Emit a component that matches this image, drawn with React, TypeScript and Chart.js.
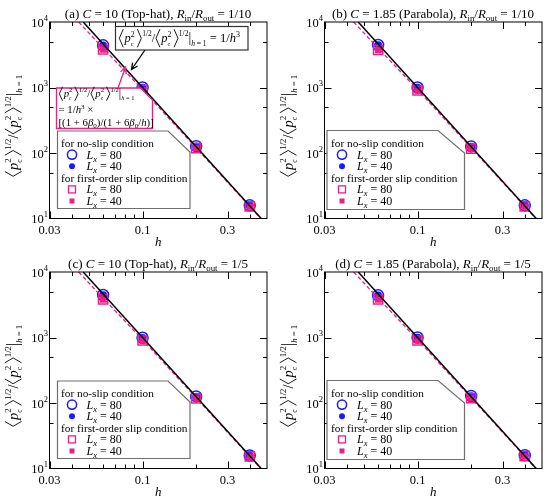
import React, { useEffect, useRef } from "react";
import { Chart, registerables } from "chart.js";

Chart.register(...registerables);

// ---------- data ----------
const H_VALUES = [0.06, 0.1, 0.2, 0.4];

const NOSLIP80_A = [4400, 1000, 127, 15.9];
const NOSLIP40_A = [4380, 990, 126, 15.8];
const SLIP80_A = [3800, 920, 119, 15.3];
const SLIP40_A = [3780, 910, 118, 15.2];

const NOSLIP80_B = [4450, 1000, 126, 15.9];
const NOSLIP40_B = [4420, 990, 125, 15.8];
const SLIP80_B = [3750, 900, 117, 15.3];
const SLIP40_B = [3730, 895, 116, 15.2];

const NOSLIP80_C = [4450, 990, 126, 15.8];
const NOSLIP40_C = [4420, 985, 125, 15.7];
const SLIP80_C = [3800, 900, 118, 15.3];
const SLIP40_C = [3780, 895, 117, 15.2];

const NOSLIP80_D = [4400, 1000, 128, 16.0];
const NOSLIP40_D = [4380, 990, 127, 15.9];
const SLIP80_D = [3800, 900, 119, 15.4];
const SLIP40_D = [3780, 895, 118, 15.3];

// theory lines
const NOSLIP_LINE_H = [0.0464, 0.464];
const NOSLIP_LINE_V = [10000, 10];
const SLIP_LINE_H = [0.0437, 0.06, 0.1, 0.2, 0.4, 0.462];
const SLIP_LINE_V = [10000, 4000, 925, 120, 15.3, 10];

// axes
const X_MIN = 0.03;
const X_MAX = 0.5;
const Y_MIN = 10;
const Y_MAX = 10000;
const X_MAJOR = [0.03, 0.1, 0.3];
const X_MAJOR_LABELS = ["0.03", "0.1", "0.3"];
const X_MINOR = [0.04, 0.05, 0.06, 0.07, 0.08, 0.09, 0.2, 0.4];
const Y_MAJOR = [10, 100, 1000, 10000];
const Y_MAJOR_EXP = ["1", "2", "3", "4"];
const Y_MINOR = [50, 500, 5000];

const PANEL_LETTERS = ["a", "b", "c", "d"];
const PANEL_C = ["10", "1.85", "10", "1.85"];
const PANEL_SHAPE = ["Top-hat", "Parabola", "Top-hat", "Parabola"];
const PANEL_RATIO = ["1/10", "1/10", "1/5", "1/5"];

const LEGEND_HEAD_1 = "for no-slip condition";
const LEGEND_HEAD_2 = "for first-order slip condition";
const LEGEND_LX = ["80", "40"];

// ---------- style ----------
const PINK = "#ec1f86";
const BLUE = "#1a1aff";
const SERIF = '"Liberation Serif", "Times New Roman", serif';

interface Tok {
  t?: string;
  s?: number;
  it?: boolean;
  dy?: number;
  br?: "l" | "r";
  bh?: number;
  bw?: number;
  bcy?: number;
  up?: Tok;
  dn?: Tok;
  gap?: number;
}

function fnt(size: number, italic?: boolean) {
  return `${italic ? "italic " : ""}${size}px ${SERIF}`;
}

function tw(ctx: CanvasRenderingContext2D, k: Tok): number {
  if (k.gap !== undefined) return k.gap;
  if (k.br) return k.bw as number;
  if (k.up || k.dn) return Math.max(k.up ? tw(ctx, k.up) : 0, k.dn ? tw(ctx, k.dn) : 0);
  ctx.font = fnt(k.s as number, k.it);
  return ctx.measureText(k.t as string).width;
}

function drawTok(ctx: CanvasRenderingContext2D, k: Tok, x: number, y: number, color: string) {
  if (k.gap !== undefined) return;
  if (k.br) {
    const w = k.bw as number;
    const h = k.bh as number;
    const cy = y + (k.bcy || 0);
    ctx.beginPath();
    if (k.br === "l") {
      ctx.moveTo(x + w - 0.5, cy - h / 2);
      ctx.lineTo(x + 0.8, cy);
      ctx.lineTo(x + w - 0.5, cy + h / 2);
    } else {
      ctx.moveTo(x + 0.5, cy - h / 2);
      ctx.lineTo(x + w - 0.8, cy);
      ctx.lineTo(x + 0.5, cy + h / 2);
    }
    ctx.strokeStyle = color;
    ctx.lineWidth = 0.9;
    ctx.stroke();
    return;
  }
  if (k.up || k.dn) {
    if (k.up) drawTok(ctx, k.up, x, y, color);
    if (k.dn) drawTok(ctx, k.dn, x, y, color);
    return;
  }
  ctx.font = fnt(k.s as number, k.it);
  ctx.fillStyle = color;
  ctx.textAlign = "left";
  ctx.textBaseline = "alphabetic";
  ctx.fillText(k.t as string, x, y + (k.dy || 0));
}

function drawRich(
  ctx: CanvasRenderingContext2D,
  toks: Tok[],
  x: number,
  y: number,
  color: string,
  align: "left" | "center" | "right" = "left"
) {
  const w = toks.reduce((a, k) => a + tw(ctx, k), 0);
  let cx = align === "left" ? x : align === "center" ? x - w / 2 : x - w;
  for (const k of toks) {
    drawTok(ctx, k, cx, y, color);
    cx += tw(ctx, k);
  }
  return w;
}

function ratioToks(s: number, bf = 1.3): Tok[] {
  const bh = s * bf;
  const bw = s * 0.42;
  const bcy = -s * 0.3;
  const block = (): Tok[] => [
    { br: "l", bh, bw, bcy },
    { gap: s * 0.06 },
    { t: "p", s, it: true },
    { up: { t: "2", s: s * 0.62, dy: -s * 0.42 }, dn: { t: "c", s: s * 0.5, dy: s * 0.32 } },
    { gap: s * 0.18 },
    { br: "r", bh, bw, bcy },
    { t: "1/2", s: s * 0.6, dy: -s * 0.45 },
  ];
  return [
    ...block(),
    { t: "/", s },
    ...block(),
    { t: "|", s: s * 1.1 },
    { t: "h", s: s * 0.6, it: true, dy: s * 0.32 },
    { t: " = 1", s: s * 0.6, dy: s * 0.32 },
  ];
}

function titleToks(i: number): Tok[] {
  const s = 13;
  const ss = 8.8;
  return [
    { t: `(${PANEL_LETTERS[i]}) `, s },
    { t: "C", s, it: true },
    { t: ` = ${PANEL_C[i]} (${PANEL_SHAPE[i]}), `, s },
    { t: "R", s, it: true },
    { t: "in", s: ss, dy: 3 },
    { t: "/", s },
    { t: "R", s, it: true },
    { t: "out", s: ss, dy: 3 },
    { t: ` = ${PANEL_RATIO[i]}`, s },
  ];
}

function lxToks(v: string): Tok[] {
  return [
    { t: "L", s: 12, it: true },
    { t: "x", s: 8.5, it: true, dy: 3 },
    { t: ` = ${v}`, s: 12 },
  ];
}

function arrow(ctx: CanvasRenderingContext2D, x0: number, y0: number, x1: number, y1: number, color: string) {
  ctx.save();
  ctx.strokeStyle = color;
  ctx.lineWidth = 1.3;
  ctx.beginPath();
  ctx.moveTo(x0, y0);
  ctx.lineTo(x1, y1);
  const a = Math.atan2(y1 - y0, x1 - x0);
  const L = 7;
  const sp = 0.45;
  ctx.moveTo(x1 - L * Math.cos(a - sp), y1 - L * Math.sin(a - sp));
  ctx.lineTo(x1, y1);
  ctx.lineTo(x1 - L * Math.cos(a + sp), y1 - L * Math.sin(a + sp));
  ctx.stroke();
  ctx.restore();
}

interface LegendGeom {
  l: number;
  r: number;
  t: number;
  b: number;
  cx: number;
  cy: number;
  tx: number;
  mx: number;
  lx: number;
}

const LEGEND_A: LegendGeom = { l: 57.5, r: 190, t: 131, b: 208.5, cx: 168, cy: 152, tx: 61, mx: 72, lx: 86.5 };
const LEGEND_B: LegendGeom = { l: 52, r: 189.5, t: 130.5, b: 209.5, cx: 163, cy: 153, tx: 56, mx: 67, lx: 82 };

function drawLegend(ctx: CanvasRenderingContext2D, L: LegendGeom) {
  ctx.save();
  ctx.beginPath();
  ctx.moveTo(L.l, L.t);
  ctx.lineTo(L.cx, L.t);
  ctx.lineTo(L.r, L.cy);
  ctx.lineTo(L.r, L.b);
  ctx.lineTo(L.l, L.b);
  ctx.closePath();
  ctx.fillStyle = "#fff";
  ctx.fill();
  ctx.strokeStyle = "#6e6e6e";
  ctx.lineWidth = 1.2;
  ctx.stroke();

  const rows = [143, 154.6, 166.2, 177.8, 189.4, 201];
  drawRich(ctx, [{ t: LEGEND_HEAD_1, s: 11.3 }], L.tx, rows[0] + 4, "#000");
  drawRich(ctx, [{ t: LEGEND_HEAD_2, s: 11.3 }], L.tx, rows[3] + 4, "#000");

  ctx.beginPath();
  ctx.arc(L.mx, rows[1], 4.6, 0, Math.PI * 2);
  ctx.strokeStyle = BLUE;
  ctx.lineWidth = 1.5;
  ctx.stroke();
  drawRich(ctx, lxToks(LEGEND_LX[0]), L.lx, rows[1] + 4, "#000");
  ctx.beginPath();
  ctx.arc(L.mx, rows[2], 3, 0, Math.PI * 2);
  ctx.fillStyle = BLUE;
  ctx.fill();
  drawRich(ctx, lxToks(LEGEND_LX[1]), L.lx, rows[2] + 4, "#000");
  ctx.strokeStyle = PINK;
  ctx.lineWidth = 1.3;
  ctx.strokeRect(L.mx - 3.5, rows[4] - 3.5, 7, 7);
  drawRich(ctx, lxToks(LEGEND_LX[0]), L.lx, rows[4] + 4, "#000");
  ctx.fillStyle = PINK;
  ctx.fillRect(L.mx - 2.5, rows[5] - 2.5, 5, 5);
  drawRich(ctx, lxToks(LEGEND_LX[1]), L.lx, rows[5] + 4, "#000");
  ctx.restore();
}

function drawAnnotations(ctx: CanvasRenderingContext2D) {
  ctx.save();
  ctx.fillStyle = "#fff";
  ctx.fillRect(115.5, 26.5, 132.5, 23.5);
  ctx.strokeStyle = "#333";
  ctx.lineWidth = 1.2;
  ctx.strokeRect(115.5, 26.5, 132.5, 23.5);
  drawRich(
    ctx,
    [
      ...ratioToks(12.5, 1.45),
      { t: " = 1/", s: 12.5 },
      { t: "h", s: 12.5, it: true },
      { t: "3", s: 8, dy: -5 },
    ],
    118.5,
    42,
    "#000"
  );
  arrow(ctx, 145, 50, 131.5, 69.5, "#000");

  ctx.beginPath();
  ctx.moveTo(56.5, 88);
  ctx.lineTo(140.5, 88);
  ctx.lineTo(152.5, 100);
  ctx.lineTo(152.5, 128.5);
  ctx.lineTo(56.5, 128.5);
  ctx.closePath();
  ctx.fillStyle = "#fff";
  ctx.fill();
  ctx.strokeStyle = PINK;
  ctx.lineWidth = 1.3;
  ctx.stroke();
  const s = 10.8;
  drawRich(ctx, ratioToks(s, 1.3), 58.5, 97, "#000");
  drawRich(
    ctx,
    [
      { t: "= 1/", s },
      { t: "h", s, it: true },
      { t: "3", s: 7, dy: -4.5 },
      { t: " ×", s },
    ],
    58.5,
    113,
    "#000"
  );
  drawRich(
    ctx,
    [
      { t: "[(1 + 6", s },
      { t: "β", s, it: true },
      { t: "0", s: 7, dy: 2.5 },
      { t: ")/(1 + 6", s },
      { t: "β", s, it: true },
      { t: "0", s: 7, dy: 2.5 },
      { t: "/", s },
      { t: "h", s, it: true },
      { t: ")]", s },
    ],
    58.5,
    125.5,
    "#000"
  );
  arrow(ctx, 118, 88, 125.5, 67, PINK);
  ctx.restore();
}

function makeDecor(i: number) {
  return {
    id: "decor" + i,
    afterDraw(chart: any) {
      const ctx: CanvasRenderingContext2D = chart.ctx;
      const { left, right, top, bottom } = chart.chartArea;
      const xs = chart.scales.x;
      const ys = chart.scales.y;
      ctx.save();
      ctx.strokeStyle = "#000";
      ctx.lineWidth = 1;
      ctx.strokeRect(left, top, right - left, bottom - top);
      ctx.beginPath();
      const xt = (v: number, len: number) => {
        const p = Math.round(xs.getPixelForValue(v)) + 0.5;
        ctx.moveTo(p, bottom);
        ctx.lineTo(p, bottom - len);
        ctx.moveTo(p, top);
        ctx.lineTo(p, top + len);
      };
      const yt = (v: number, len: number) => {
        const p = Math.round(ys.getPixelForValue(v)) + 0.5;
        ctx.moveTo(left, p);
        ctx.lineTo(left + len, p);
        ctx.moveTo(right, p);
        ctx.lineTo(right - len, p);
      };
      X_MAJOR.forEach((v) => xt(v, 7));
      X_MINOR.forEach((v) => xt(v, 4));
      Y_MAJOR.slice(1, -1).forEach((v) => yt(v, 7));
      Y_MINOR.forEach((v) => yt(v, 4));
      ctx.stroke();

      X_MAJOR.forEach((v, k) => {
        const p = xs.getPixelForValue(v);
        drawRich(ctx, [{ t: X_MAJOR_LABELS[k], s: 12.5 }], p, bottom + 15.5, "#000", "center");
      });
      drawRich(ctx, [{ t: "h", s: 13, it: true }], (left + right) / 2, bottom + 27, "#000", "center");
      Y_MAJOR.forEach((v, k) => {
        const p = ys.getPixelForValue(v);
        drawRich(
          ctx,
          [
            { t: "10", s: 12.5 },
            { t: Y_MAJOR_EXP[k], s: 8.5, dy: -6 },
          ],
          left - 1.5,
          p + 4.5,
          "#000",
          "right"
        );
      });
      ctx.save();
      ctx.translate(17.5, 126);
      ctx.rotate(-Math.PI / 2);
      drawRich(ctx, ratioToks(14.5, 1.15), 0, 0, "#000", "center");
      ctx.restore();
      drawRich(ctx, titleToks(i), 158, 17.5, "#000", "center");

      drawLegend(ctx, i % 2 === 0 ? LEGEND_A : LEGEND_B);
      if (i === 0) drawAnnotations(ctx);
      ctx.restore();
    },
  };
}

const PANEL_DATA = [
  [NOSLIP80_A, NOSLIP40_A, SLIP80_A, SLIP40_A],
  [NOSLIP80_B, NOSLIP40_B, SLIP80_B, SLIP40_B],
  [NOSLIP80_C, NOSLIP40_C, SLIP80_C, SLIP40_C],
  [NOSLIP80_D, NOSLIP40_D, SLIP80_D, SLIP40_D],
];

function pts(xs: number[], ys: number[]) {
  return xs.map((x, k) => ({ x, y: ys[k] }));
}

function Panel({ index }: { index: number }) {
  const ref = useRef<HTMLCanvasElement | null>(null);
  useEffect(() => {
    if (!ref.current) return;
    const [n80, n40, s80, s40] = PANEL_DATA[index];
    const chart = new Chart(ref.current, {
      type: "scatter",
      data: {
        datasets: [
          {
            label: "1/h^3",
            data: pts(NOSLIP_LINE_H, NOSLIP_LINE_V),
            showLine: true,
            borderColor: "#000",
            borderWidth: 1.5,
            pointRadius: 0,
            clip: 0,
            order: 0,
          },
          {
            label: "slip theory",
            data: pts(SLIP_LINE_H, SLIP_LINE_V),
            showLine: true,
            borderColor: PINK,
            borderDash: [4, 2.5],
            borderWidth: 1.3,
            pointRadius: 0,
            clip: 0,
            order: 1,
          },
          {
            label: "slip Lx=40",
            data: pts(H_VALUES, s40),
            pointStyle: "rect",
            pointRadius: 4.5,
            pointBackgroundColor: PINK,
            pointBorderColor: PINK,
            pointBorderWidth: 0,
            order: 2,
          },
          {
            label: "slip Lx=80",
            data: pts(H_VALUES, s80),
            pointStyle: "rect",
            pointRadius: 6.5,
            pointBackgroundColor: "rgba(0,0,0,0)",
            pointBorderColor: PINK,
            pointBorderWidth: 1.5,
            order: 3,
          },
          {
            label: "no-slip Lx=40",
            data: pts(H_VALUES, n40),
            pointStyle: "circle",
            pointRadius: 4,
            pointBackgroundColor: BLUE,
            pointBorderColor: BLUE,
            pointBorderWidth: 0,
            order: 4,
          },
          {
            label: "no-slip Lx=80",
            data: pts(H_VALUES, n80),
            pointStyle: "circle",
            pointRadius: 5.5,
            pointBackgroundColor: "rgba(0,0,0,0)",
            pointBorderColor: BLUE,
            pointBorderWidth: 1.5,
            order: 5,
          },
        ],
      },
      options: {
        responsive: false,
        animation: false,
        events: [],
        layout: { padding: { left: 49.5, right: 1.5, top: 22, bottom: 31.5 } },
        plugins: { legend: { display: false }, tooltip: { enabled: false }, title: { display: false } },
        scales: {
          x: { type: "logarithmic", min: X_MIN, max: X_MAX, display: false },
          y: { type: "logarithmic", min: Y_MIN, max: Y_MAX, display: false },
        },
      },
      plugins: [makeDecor(index)],
    } as any);
    return () => chart.destroy();
  }, [index]);
  const left = (index % 2) * 275;
  const top = Math.floor(index / 2) * 250;
  return (
    <canvas
      ref={ref}
      width={275}
      height={250}
      style={{ position: "absolute", left, top, width: 275, height: 250 }}
    />
  );
}

export default function App() {
  return (
    <div style={{ position: "absolute", left: 0, top: 0, width: 550, height: 500, background: "#fff" }}>
      {[0, 1, 2, 3].map((i) => (
        <Panel key={i} index={i} />
      ))}
    </div>
  );
}
